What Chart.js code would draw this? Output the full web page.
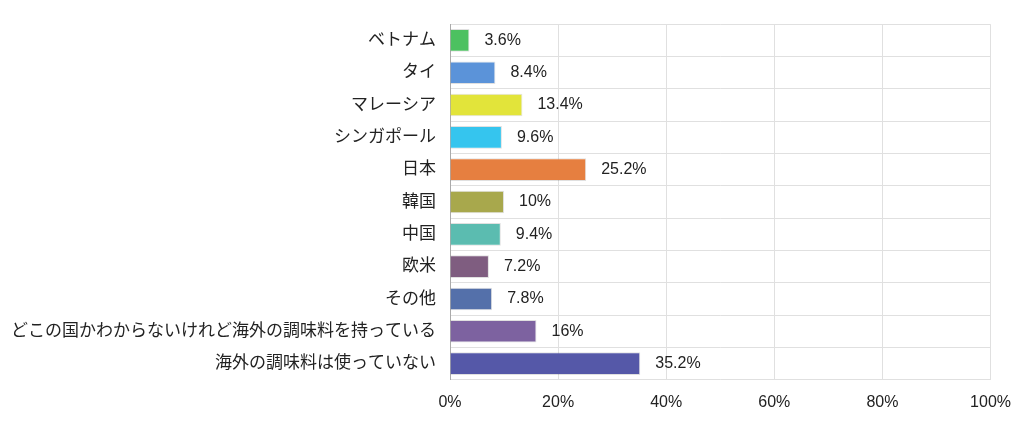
<!DOCTYPE html>
<html>
<head>
<meta charset="utf-8">
<script src="https://cdn.jsdelivr.net/npm/chart.js@4"></script>
<style>
body{margin:0;background:#fff;}
#wrap{width:1024px;height:425px;}
</style>
</head>
<body>
<div id="wrap"><canvas id="grafico"></canvas></div>
<script>
// =====================================
// DATA
// =====================================

const categorias = [
    "ベトナム","タイ","マレーシア","シンガポール","日本","韓国",
    "中国","欧米","その他",
    "どこの国かわからないけれど海外の調味料を持っている",
    "海外の調味料は使っていない"
];

const valores = [3.6,8.4,13.4,9.6,25.2,10,9.4,7.2,7.8,16,35.2];

const rotulos = ["3.6%","8.4%","13.4%","9.6%","25.2%","10%","9.4%","7.2%","7.8%","16%","35.2%"];

const cores = [
    "#4cc160","#5b93d9","#e2e43a","#35c5ee","#e67f40","#a8a84c",
    "#5bbcb0","#7f5d80","#5470aa","#7d62a0","#5558a8"
];

const fonte = "'Liberation Sans', 'Noto Sans CJK JP', sans-serif";

// rotulo no fim da barra
const rotuloBarras = {
    id:"rotuloBarras",
    afterDatasetsDraw(chart){
        const ctx = chart.ctx;
        const meta = chart.getDatasetMeta(0);
        ctx.save();
        ctx.font = "16px " + fonte;
        ctx.fillStyle = "#222";
        ctx.textBaseline = "middle";
        meta.data.forEach((bar,i)=>{
            ctx.fillText(rotulos[i], bar.x + 15, bar.y);
        });
        ctx.restore();
    }
};

new Chart(document.getElementById("grafico"),{
    type:"bar",
    data:{
        labels:categorias,
        datasets:[{
            data:valores,
            backgroundColor:cores,
            borderColor:"rgba(0,0,0,0.12)",
            borderWidth:1,
            barPercentage:0.7,
            categoryPercentage:1
        }]
    },
    options:{
        indexAxis:"y",
        responsive:true,
        maintainAspectRatio:false,
        animation:false,
        layout:{padding:{top:3,right:30,bottom:0,left:0}},
        plugins:{legend:{display:false},tooltip:{enabled:false}},
        scales:{
            x:{
                min:0,max:100,
                ticks:{stepSize:20,callback:v=>v+"%",color:"#222",font:{size:16,family:fonte},padding:13},
                grid:{color:"#e0e0e0",drawTicks:false},
                border:{display:false}
            },
            y:{
                afterFit:s=>{s.width=450;},
                ticks:{color:"#222",font:{size:17,family:fonte},padding:14},
                grid:{color:"#e0e0e0",offset:true,drawTicks:true,tickLength:0},
                border:{color:"#aaa"}
            }
        }
    },
    plugins:[rotuloBarras]
});
</script>
</body>
</html>
